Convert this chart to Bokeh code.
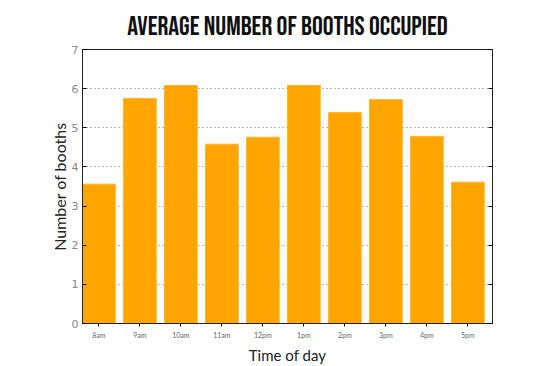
from bokeh.plotting import figure
from bokeh.models import ColumnDataSource, FixedTicker, LinearAxis, Range1d, Title
from bokeh.embed import file_html
from bokeh.resources import INLINE

times = ["8am", "9am", "10am", "11am", "12pm", "1pm", "2pm", "3pm", "4pm", "5pm"]
booths = [3.56, 5.75, 6.08, 4.58, 4.76, 6.08, 5.39, 5.72, 4.78, 3.61]
yticks = [0, 1, 2, 3, 4, 5, 6, 7]

idx = list(range(len(times)))
centers = [i + 0.4 for i in idx]
src = ColumnDataSource(dict(x=centers, top=booths, label=times))

p = figure(width=550, height=366, output_backend="svg", toolbar_location=None,
           x_range=Range1d(0, len(times)), y_range=Range1d(0, 7),
           min_border_left=82, min_border_right=58, min_border_top=49, min_border_bottom=42)
p.title = Title(text="AVERAGE NUMBER OF BOOTHS OCCUPIED", align="center",
                text_font="'Bebas Neue', 'Roboto Condensed', 'DejaVu Sans Condensed', sans-serif",
                text_font_size="27px", text_font_style="normal", text_color="#111111")
p.title.standoff = 14
p.vbar(x="x", top="top", width=0.8, source=src, fill_color="#FFA500",
       line_color="#FFB733", line_width=1)

p.outline_line_color = "#222222"
p.outline_line_width = 1
p.background_fill_color = "white"
p.border_fill_color = "white"

p.xgrid.visible = False
p.ygrid.grid_line_color = "#777777"
p.ygrid.grid_line_dash = "1 3"
p.ygrid.grid_line_width = 1

xa = p.xaxis[0]
xa.ticker = FixedTicker(ticks=centers)
xa.major_label_overrides = {c: t for c, t in zip(centers, times)}
xa.major_label_text_font_size = "7px"
xa.major_label_text_color = "#666666"
xa.major_label_text_font = "Lato"
xa.major_label_standoff = 4
xa.major_tick_in = 0
xa.major_tick_out = 3
xa.minor_tick_line_color = None
xa.axis_line_color = "#222222"
xa.axis_label = "Time of day"
xa.axis_label_text_font = "Lato"
xa.axis_label_text_font_style = "normal"
xa.axis_label_text_font_size = "15px"
xa.axis_label_text_color = "#222222"
xa.axis_label_standoff = 4

ya = p.yaxis[0]
ya.ticker = FixedTicker(ticks=yticks)
ya.major_label_text_font_size = "11px"
ya.major_label_text_color = "#888888"
ya.major_label_text_font = "DejaVu Sans"
ya.major_label_standoff = 4
ya.major_tick_in = 4
ya.major_tick_out = 0
ya.minor_tick_line_color = None
ya.axis_line_color = "#222222"
ya.axis_label = "Number of booths"
ya.axis_label_text_font = "Lato"
ya.axis_label_text_font_style = "normal"
ya.axis_label_text_font_size = "16px"
ya.axis_label_text_color = "#222222"
ya.axis_label_standoff = 0

ra = LinearAxis(ticker=FixedTicker(ticks=yticks))
ra.major_label_overrides = {t: "" for t in yticks}
ra.major_label_text_font_size = "1px"
ra.major_tick_in = 4
ra.major_tick_out = 0
ra.minor_tick_line_color = None
ra.axis_line_color = "#222222"
p.add_layout(ra, "right")

open("out.html", "w").write(file_html(p, INLINE))
